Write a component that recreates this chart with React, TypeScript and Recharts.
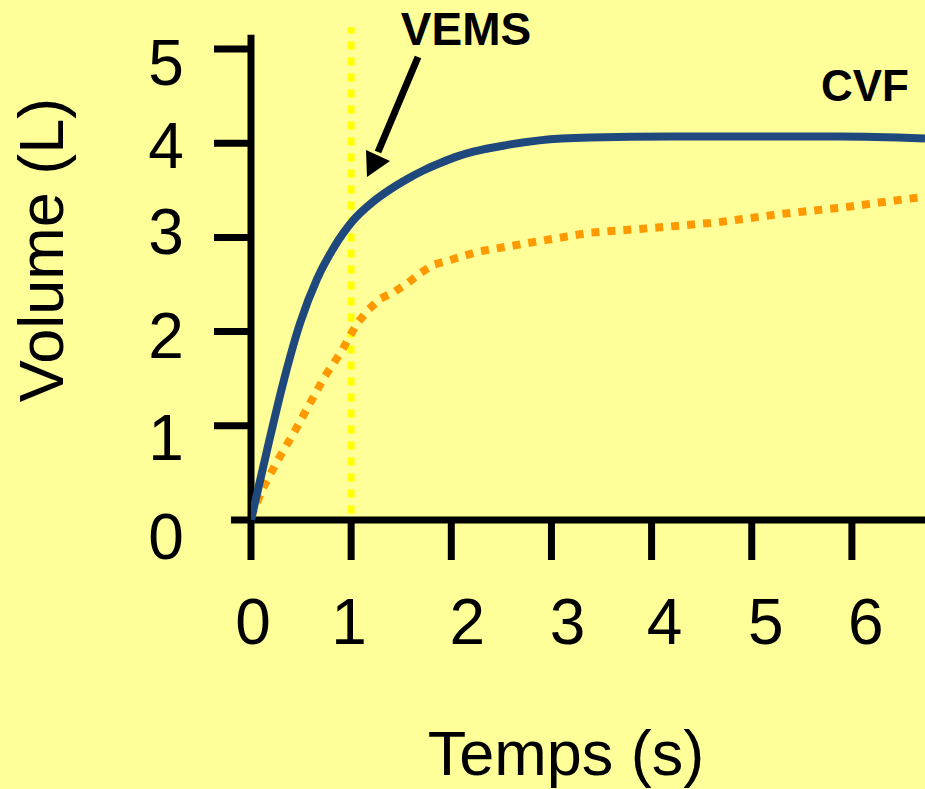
import React from 'react';
import { LineChart, Line, XAxis, YAxis, ReferenceLine } from 'recharts';

// ---- data ----
const blueTime = [0, 0.16, 0.32, 0.49, 0.66, 0.82, 1.02, 1.22, 1.39, 1.56, 1.72, 1.89, 2.06, 2.22, 2.55, 2.88, 3.38, 4.21, 5.21, 5.88, 6.73];
const blueVolume = [0, 0.74, 1.45, 2.09, 2.56, 2.88, 3.18, 3.38, 3.51, 3.62, 3.71, 3.79, 3.86, 3.91, 3.98, 4.03, 4.06, 4.07, 4.07, 4.07, 4.05];

const orangeTime = [0, 0.12, 0.27, 0.43, 0.59, 0.74, 0.91, 0.99, 1.07, 1.17, 1.29, 1.43, 1.57, 1.69, 1.82, 1.99, 2.27, 2.71, 3.38, 4.01, 4.66, 5.3, 5.93, 6.56, 6.73];
const orangeVolume = [0.03, 0.34, 0.64, 0.93, 1.24, 1.53, 1.8, 1.96, 2.1, 2.23, 2.35, 2.42, 2.52, 2.62, 2.71, 2.76, 2.85, 2.93, 3.05, 3.1, 3.16, 3.25, 3.32, 3.41, 3.43];

const xTicks = [0, 1, 2, 3, 4, 5, 6];
const yTicks = [0, 1, 2, 3, 4, 5];
const xMax = 6.73;
const vemsTime = 1;

const xTitle = 'Temps (s)';
const yTitle = 'Volume (L)';
const vemsLabel = 'VEMS';
const cvfLabel = 'CVF';

const blueData = blueTime.map((t, i) => ({ t, v: blueVolume[i] }));
const orangeData = orangeTime.map((t, i) => ({ t, v: orangeVolume[i] }));

// ---- style ----
const FONT = '"Liberation Sans", Arial, sans-serif';
const BG = '#FFFF99';
const X_NUDGE = [2, -2, 16, 16, 13, 14, 14];
const Y_NUDGE = [16, 11, 3, -6, 2, 13];
const Y_TICK_LEN = 37;

const XTick = (props: any) => {
  const { x, y, payload, index } = props;
  return (
    <text
      x={x + (X_NUDGE[index] ?? 0)}
      y={y + 84}
      textAnchor="middle"
      fontFamily={FONT}
      fontSize={64}
      fill="#000"
    >
      {payload.value}
    </text>
  );
};

const YTick = (props: any) => {
  const { x, y, payload, index } = props;
  return (
    <g>
      {index > 0 && (
        <line x1={x} y1={y} x2={x + Y_TICK_LEN} y2={y} stroke="#000" strokeWidth={7} />
      )}
      <text
        x={x - 48}
        y={y + 23 + (Y_NUDGE[index] ?? 0)}
        textAnchor="middle"
        fontFamily={FONT}
        fontSize={64}
        fill="#000"
      >
        {payload.value}
      </text>
    </g>
  );
};

export default function App() {
  return (
    <div style={{ position: 'absolute', left: 0, top: 0, width: 925, height: 789, background: BG, overflow: 'hidden' }}>
      <LineChart
        width={925}
        height={789}
        margin={{ top: 49, right: 0, bottom: 209, left: 191 }}
      >
        <XAxis
          type="number"
          dataKey="t"
          domain={[0, xMax]}
          ticks={xTicks}
          interval={0}
          allowDataOverflow
          axisLine={false}
          tickLine={{ stroke: '#000', strokeWidth: 7 }}
          tickSize={40}
          tickMargin={0}
          height={60}
          tick={XTick}
        />
        <YAxis
          type="number"
          dataKey="v"
          domain={[0, 5]}
          ticks={yTicks}
          interval={0}
          axisLine={false}
          tickLine={false}
          tickSize={Y_TICK_LEN}
          tickMargin={0}
          width={60}
          tick={YTick}
        />
        <ReferenceLine
          segment={[{ x: -0.2, y: 0 }, { x: xMax, y: 0 }]}
          stroke="#000"
          strokeWidth={7}
          ifOverflow="visible"
        />
        <ReferenceLine
          segment={[{ x: 0, y: 0 }, { x: 0, y: 5.15 }]}
          stroke="#000"
          strokeWidth={7}
          ifOverflow="visible"
        />
        <ReferenceLine
          segment={[{ x: vemsTime, y: 0.07 }, { x: vemsTime, y: 5.23 }]}
          stroke="#FFFF00"
          strokeWidth={7}
          strokeDasharray="8 8"
          ifOverflow="visible"
        />
        <Line
          data={orangeData}
          dataKey="v"
          type="linear"
          stroke="#FF9900"
          strokeWidth={8}
          strokeDasharray="8 8"
          dot={false}
          activeDot={false}
          isAnimationActive={false}
        />
        <Line
          data={blueData}
          dataKey="v"
          type="monotone"
          stroke="#1F497D"
          strokeWidth={8}
          dot={false}
          activeDot={false}
          isAnimationActive={false}
        />
      </LineChart>
      <svg
        width={925}
        height={789}
        style={{ position: 'absolute', left: 0, top: 0, pointerEvents: 'none' }}
      >
        <text x={466} y={45} textAnchor="middle" fontFamily={FONT} fontWeight="bold" fontSize={46} fill="#000">
          {vemsLabel}
        </text>
        <text x={865} y={101} textAnchor="middle" fontFamily={FONT} fontWeight="bold" fontSize={44} fill="#000">
          {cvfLabel}
        </text>
        <line x1={418} y1={57} x2={378} y2={152} stroke="#000" strokeWidth={7} />
        <polygon points="367,177 366,150 390,161" fill="#000" />
        <text x={566} y={775} textAnchor="middle" fontFamily={FONT} fontSize={63} fill="#000">
          {xTitle}
        </text>
        <text
          x={63}
          y={250}
          textAnchor="middle"
          fontFamily={FONT}
          fontSize={63}
          fill="#000"
          transform="rotate(-90, 63, 250)"
        >
          {yTitle}
        </text>
      </svg>
    </div>
  );
}
